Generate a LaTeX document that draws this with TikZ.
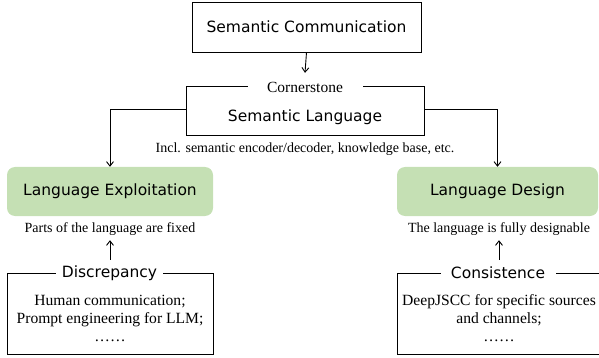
\documentclass[tikz,border=0pt]{standalone}
\usepackage{fontspec}
\setmainfont{Liberation Serif}
\newfontfamily\sansf{DejaVu Sans}
\usetikzlibrary{arrows.meta}
\definecolor{lgreen}{HTML}{C5E0B4}
\begin{document}
\begin{tikzpicture}[x=1pt,y=-1pt,
  sanstext/.style={font=\sansf\fontsize{15.5}{18}\selectfont},
  bodytext/.style={font=\fontsize{15.6}{18}\selectfont, align=center, inner sep=0pt},
  captext/.style={font=\fontsize{14}{16}\selectfont, inner sep=0pt, minimum height=22pt},
  plainbox/.style={draw, line width=0.9pt, inner sep=0pt},
  greenbox/.style={fill=lgreen, rounded corners=8pt, inner sep=0pt, minimum width=206pt, minimum height=49pt, sanstext},
  edgelabel/.style={fill=white, inner sep=0pt},
  conn/.style={line width=0.9pt, -{Straight Barb[length=4.5pt,width=7pt,line width=0.9pt]}}
]
\useasboundingbox (0,0) rectangle (599,358);

% top box
\node[plainbox, sanstext, minimum width=229pt, minimum height=50pt] (top) at (306.5,27) {Semantic Communication};

% semantic language box
\node[plainbox, sanstext, minimum width=238pt, minimum height=49pt, text height=24.2pt, text depth=4pt] (sl) at (305,111) {Semantic Language};
\node[edgelabel, font=\fontsize{15.5}{18}\selectfont, minimum width=115pt, minimum height=28pt] (cs) at (305,87) {Cornerstone};
\node[captext] (incl) at (305,149) {Incl. semantic encoder/decoder, knowledge base, etc.};

% green boxes
\node[greenbox] (le) at (110,191.5) {Language Exploitation};
\node[greenbox, minimum width=201pt] (ld) at (497.5,191.5) {Language Design};
\node[captext] (lecap) at (110,229) {Parts of the language are fixed};
\node[captext] (ldcap) at (499,229) {The language is fully designable};

% bottom boxes
\node[plainbox, minimum width=206pt, minimum height=81pt] (db) at (110,313.5) {};
\node[bodytext] (dt) at (110,318) {Human communication;\\Prompt engineering for LLM;\\……};
\node[edgelabel, sanstext, minimum width=107pt, minimum height=26pt] (dl) at (109.5,273) {Discrepancy};

\node[plainbox, minimum width=212pt, minimum height=81pt] (cb) at (503,313.5) {};
\node[bodytext] (ct) at (499,318) {DeepJSCC for specific sources\\and channels;\\……};
\node[edgelabel, sanstext, minimum width=115pt, minimum height=26pt] (cl) at (498,273) {Consistence};

% connectors
\draw[conn] (top.south) -- (cs.north);
\draw[conn] ([yshift=1.5pt]sl.west) -| (le.north);
\draw[conn] ([yshift=1.5pt]sl.east) -| (ld.north);
\draw[conn] (dl.north -| lecap.south) -- (lecap.south);
\draw[conn] (cl.north -| ldcap.south) -- (ldcap.south);
\end{tikzpicture}
\end{document}
